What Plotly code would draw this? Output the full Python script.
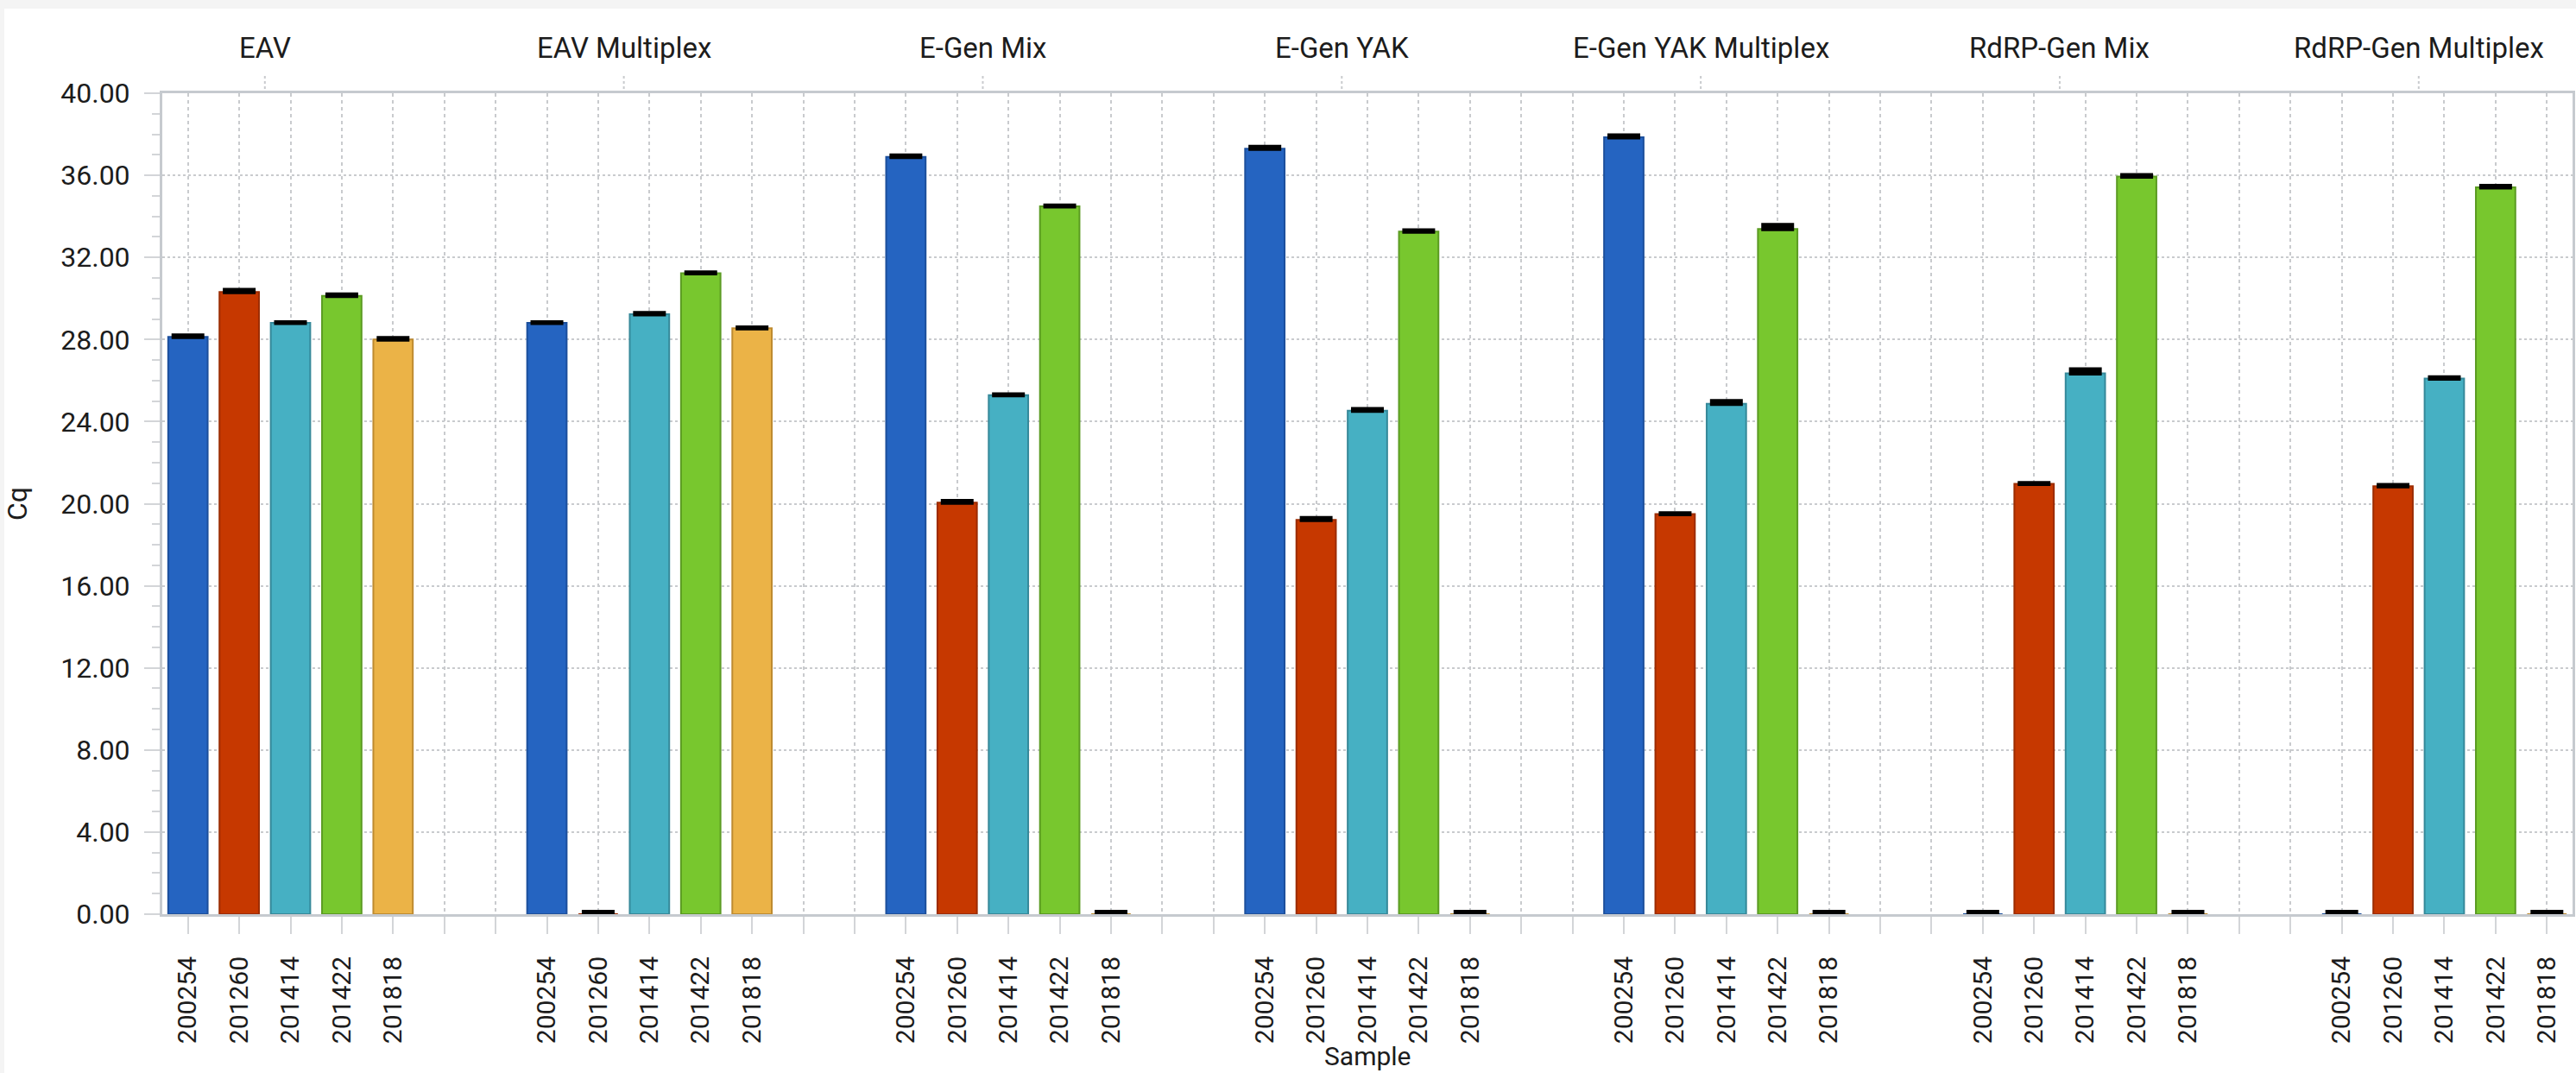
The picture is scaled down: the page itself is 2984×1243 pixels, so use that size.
import plotly.graph_objects as go

# ---------------- data ----------------
groups = ["EAV", "EAV Multiplex", "E-Gen Mix", "E-Gen YAK",
          "E-Gen YAK Multiplex", "RdRP-Gen Mix", "RdRP-Gen Multiplex"]
samples = ["200254", "201260", "201414", "201422", "201818"]

cq_200254 = [28.13, 28.81, 36.90, 37.30, 37.86, 0.00, 0.00]
cq_201260 = [30.32, 0.00, 20.05, 19.21, 19.50, 20.97, 20.85]
cq_201414 = [28.81, 29.23, 25.29, 24.53, 24.87, 26.35, 26.10]
cq_201422 = [30.13, 31.23, 34.49, 33.26, 33.39, 35.94, 35.42]
cq_201818 = [28.00, 28.55, 0.00, 0.00, 0.00, 0.00, 0.00]

sd_200254 = [0.06, 0.02, 0.06, 0.08, 0.08, 0.10, 0.10]
sd_201260 = [0.09, 0.10, 0.08, 0.09, 0.03, 0.03, 0.05]
sd_201414 = [0.02, 0.05, 0.03, 0.08, 0.13, 0.19, 0.05]
sd_201422 = [0.06, 0.03, 0.03, 0.05, 0.19, 0.06, 0.06]
sd_201818 = [0.06, 0.03, 0.10, 0.10, 0.10, 0.10, 0.10]

values = [cq_200254, cq_201260, cq_201414, cq_201422, cq_201818]
sds = [sd_200254, sd_201260, sd_201414, sd_201422, sd_201818]

fills = ["#2564c1", "#c63800", "#46b0c3", "#78c72e", "#ebb347"]
edges = ["#1c4f9c", "#9c2c00", "#36899a", "#5b9b22", "#be8b30"]

slots = 7  # 5 samples + 2 empty slots per group
n_slots = len(groups) * slots - 2

# ---------------- figure ----------------
fig = go.Figure()
for si, name in enumerate(samples):
    fig.add_trace(go.Bar(
        x=[gi * slots + si for gi in range(len(groups))],
        y=values[si],
        name=name,
        width=0.77,
        marker=dict(color=fills[si], line=dict(color=edges[si], width=2)),
        error_y=dict(type="data", symmetric=False, array=sds[si],
                     arrayminus=[0] * len(groups), color="#000000",
                     thickness=5, width=19),
        showlegend=False,
    ))

tickvals = list(range(n_slots))
ticktext = []
for t in tickvals:
    s = t % slots
    ticktext.append(samples[s] if s < len(samples) else "")

W, H = 2984, 1243
ml, mr, mt, mb = 188, 4, 108, 184
plot_h = H - mt - mb
plot_w = W - ml - mr

font_family = "Roboto, 'Open Sans', sans-serif"
txt = "#1c1c1c"
grid = "#c9cbce"
axis_c = "#c6cacf"

shapes = [
    # white panel over light-gray outer frame
    dict(type="rect", xref="paper", yref="paper", layer="below",
         x0=(5 - ml) / plot_w, x1=1.02, y0=-0.3, y1=(H - mb - 10) / plot_h,
         fillcolor="white", line=dict(width=0)),
]
annotations = []
for gi, g in enumerate(groups):
    cx = gi * slots + 1.5
    annotations.append(dict(
        x=cx, xref="x", y=1 + (mt - 56) / plot_h, yref="paper",
        text=g, showarrow=False, xanchor="center", yanchor="middle",
        font=dict(family=font_family, size=33, color=txt)))
    shapes.append(dict(
        type="line", xref="x", yref="paper", x0=cx, x1=cx,
        y0=1 + 5 / plot_h, y1=1 + 21 / plot_h,
        line=dict(color=grid, width=2, dash="dot")))

# x-axis title, at the very bottom edge as in the original
annotations.append(dict(
    x=0.5, xref="paper", y=-(mb - 1) / plot_h, yref="paper",
    text="Sample", showarrow=False, xanchor="center", yanchor="bottom",
    borderpad=0,
    font=dict(family=font_family, size=30, color=txt)))

fig.update_layout(
    width=W, height=H,
    margin=dict(l=ml, r=mr, t=mt, b=mb, autoexpand=False),
    paper_bgcolor="#f4f4f4",
    plot_bgcolor="white",
    barmode="overlay",
    font=dict(family=font_family, size=32, color=txt),
    shapes=shapes,
    annotations=annotations,
    xaxis=dict(
        range=[-0.5, n_slots - 0.5],
        tickmode="array", tickvals=tickvals, ticktext=ticktext,
        tickangle=-90,
        tickfont=dict(family=font_family, size=30, color=txt),
        ticks="outside", ticklen=20, tickwidth=2, tickcolor="#d3d5d8",
        ticklabelstandoff=14,
        showgrid=True, gridcolor=grid, gridwidth=2, griddash="4px,4px",
        showline=True, linecolor=axis_c, linewidth=3, mirror=True,
        zeroline=False,
    ),
    yaxis=dict(
        range=[0, 40], tick0=0, dtick=4, tickformat=".2f",
        tickfont=dict(family=font_family, size=32, color=txt),
        ticks="outside", ticklen=18, tickwidth=2, tickcolor="#d3d5d8",
        ticklabelstandoff=10,
        minor=dict(dtick=1, ticks="outside", ticklen=9, tickwidth=2,
                   tickcolor="#d3d5d8", showgrid=False),
        showgrid=True, gridcolor=grid, gridwidth=2, griddash="3px,3px",
        showline=True, linecolor=axis_c, linewidth=3, mirror=True,
        zeroline=False,
        title=dict(text="Cq", standoff=30,
                   font=dict(family=font_family, size=32, color=txt)),
    ),
)

fig.write_html("out.html")
